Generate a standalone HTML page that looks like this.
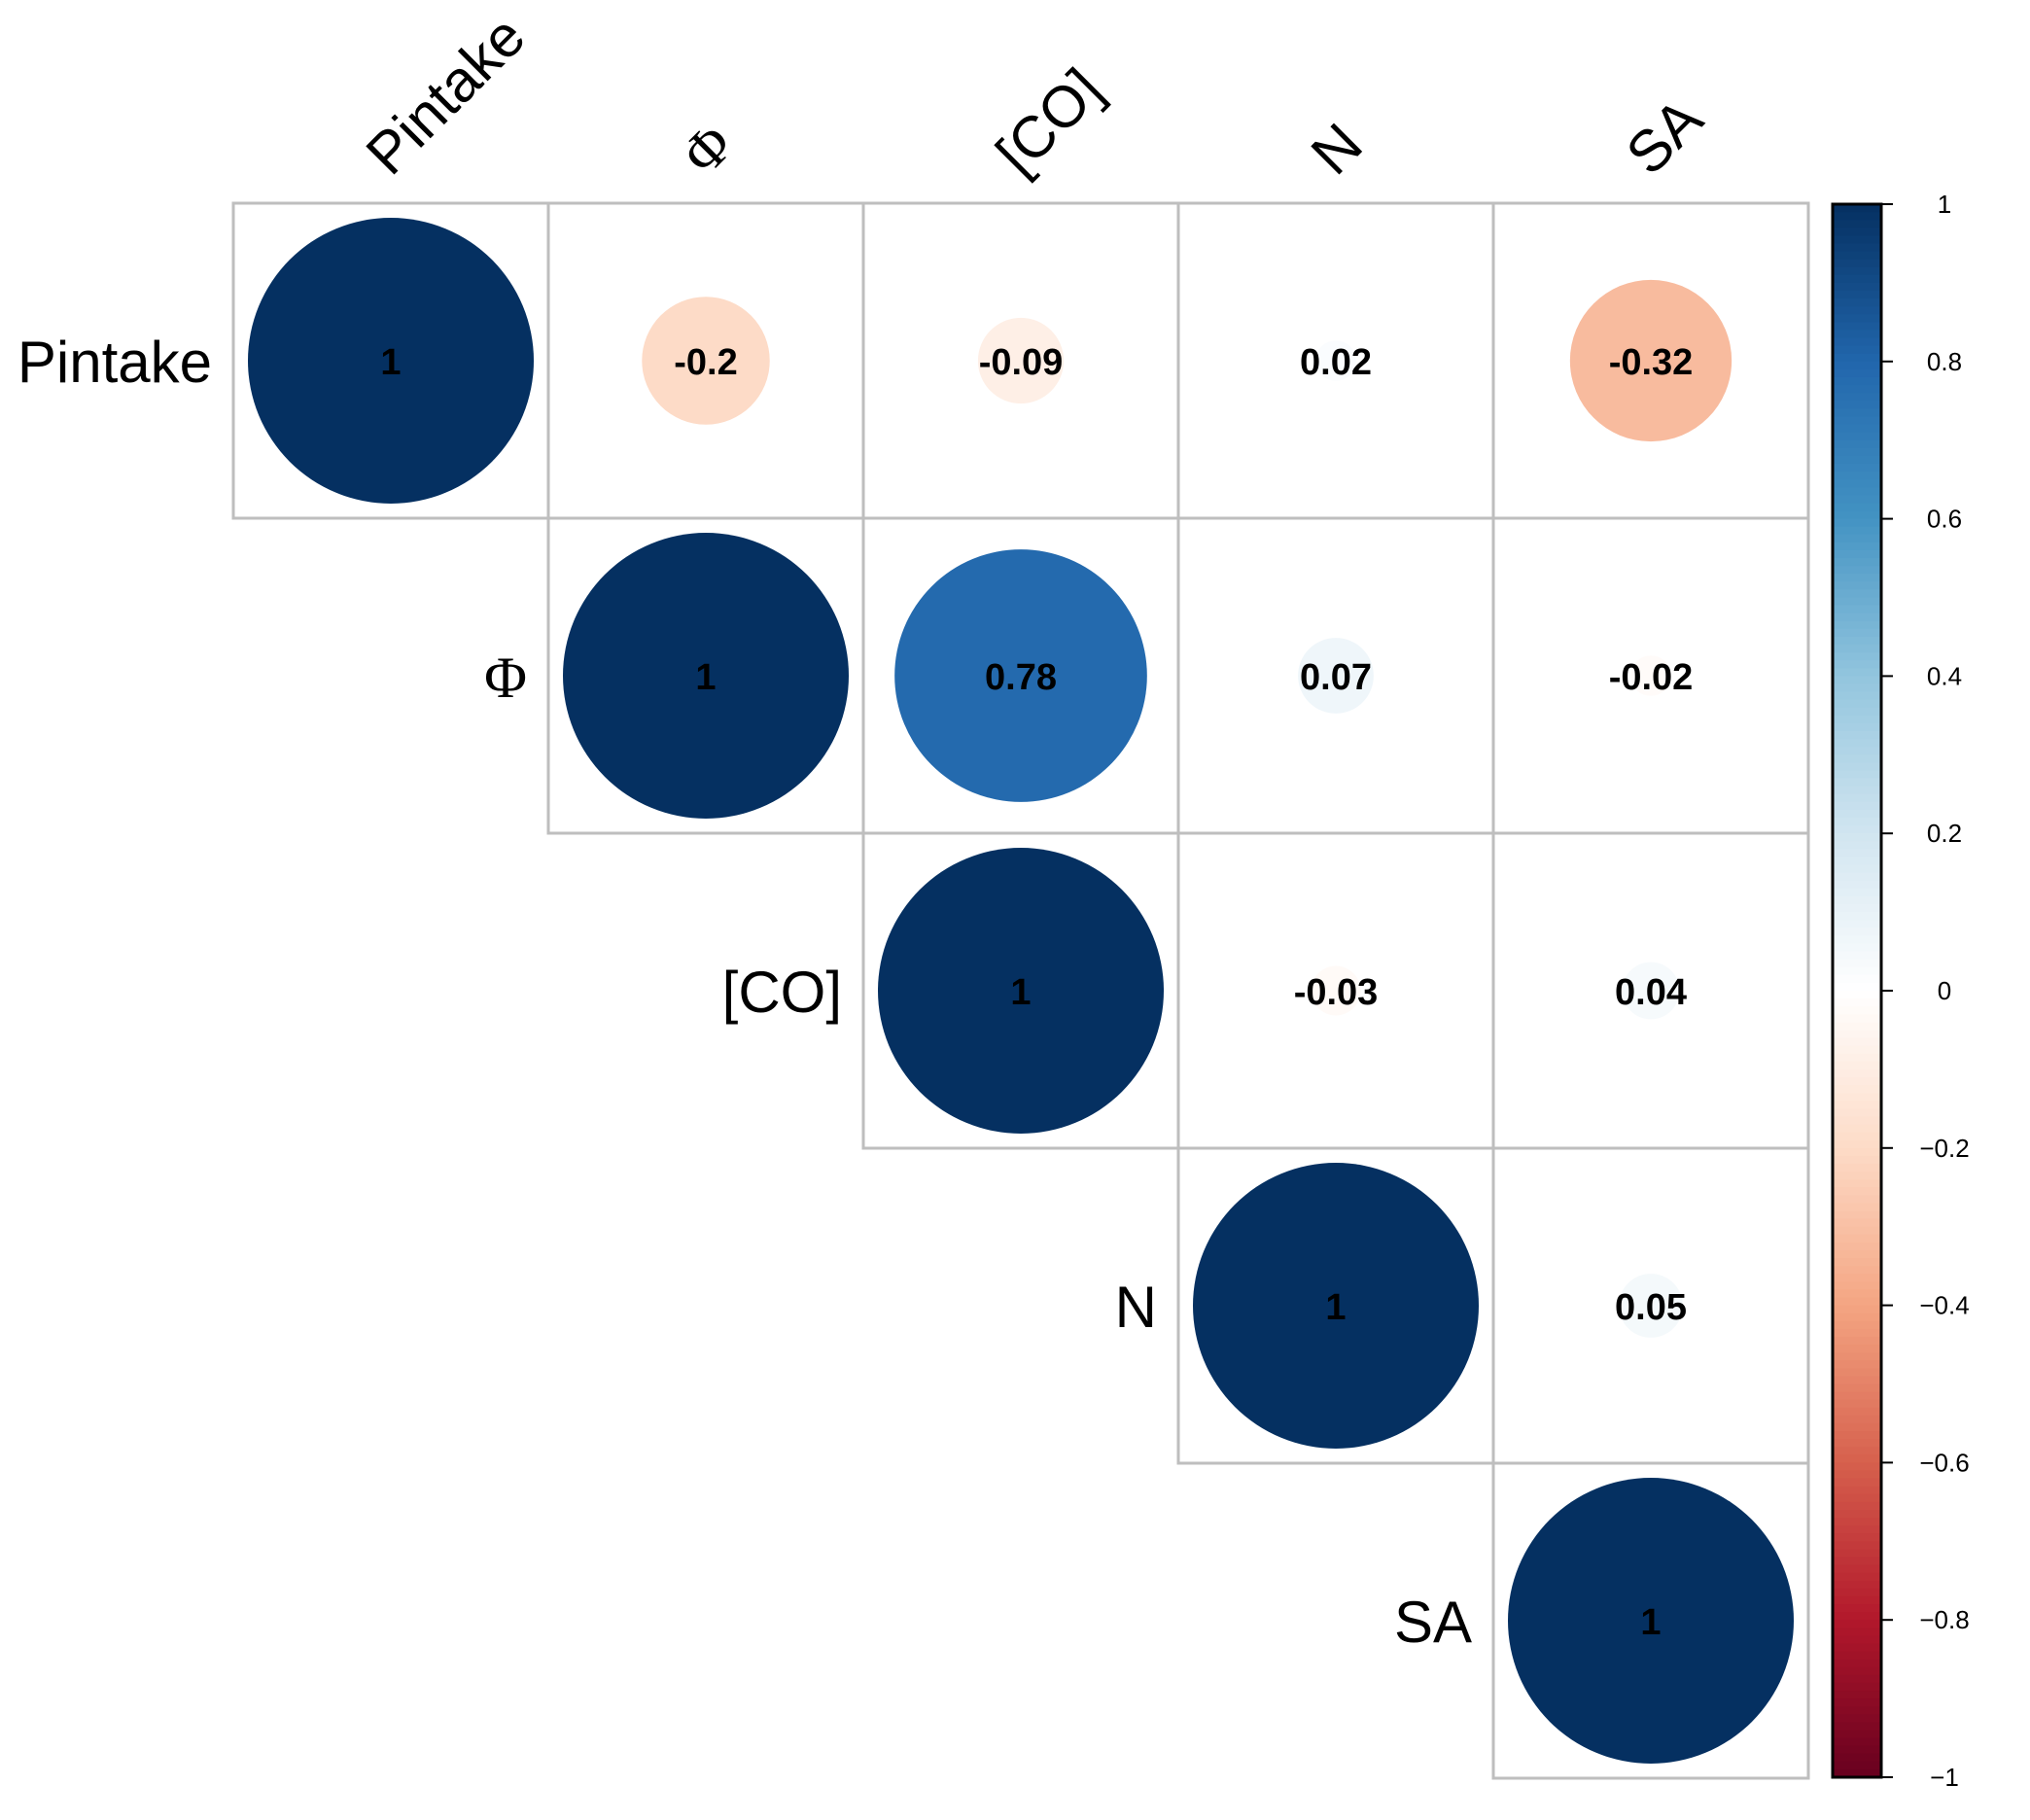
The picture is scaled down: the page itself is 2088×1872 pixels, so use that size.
<!DOCTYPE html>
<html><head><meta charset="utf-8"><style>
html,body{margin:0;padding:0;background:#fff;}
svg{display:block;font-family:"Liberation Sans",sans-serif;}
</style></head><body>
<svg id="chart" width="2088" height="1872" viewBox="0 0 2088 1872"></svg>
<script>
const labels = ["Pintake","\u03A6","[CO]","N","SA"];
const rowA = [1, -0.2, -0.09, 0.02, -0.32];
const rowB = [0.78, 0.07, -0.02];
const rowC = [-0.03, 0.04];
const rowD = [0.05];
const cbTicks = [1,0.8,0.6,0.4,0.2,0,-0.2,-0.4,-0.6,-0.8,-1];
const cbTickLabels = ["1","0.8","0.6","0.4","0.2","0","\u22120.2","\u22120.4","\u22120.6","\u22120.8","\u22121"];

const NS="http://www.w3.org/2000/svg";
const svg=document.getElementById('chart');
function mk(t,a,p){const e=document.createElementNS(NS,t);for(const k in a)e.setAttribute(k,a[k]);(p||svg).appendChild(e);return e;}
const n=labels.length;
// full matrix from upper rows
const M=[];for(let i=0;i<n;i++){M.push(new Array(n).fill(null));M[i][i]=1;}
for(let j=1;j<n;j++)M[0][j]=rowA[j];
[rowB,rowC,rowD].forEach((r,k)=>{const i=k+1;r.forEach((v,m)=>{M[i][i+1+m]=v;});});

const x0=240,y0=209,cell=324,rMax=147;
const cx=j=>x0+cell*(j+0.5), cy=i=>y0+cell*(i+0.5);
const pal=["#67001F","#B2182B","#D6604D","#F4A582","#FDDBC7","#FFFFFF","#D1E5F0","#92C5DE","#4393C3","#2166AC","#053061"];
function hex(h){return [1,3,5].map(i=>parseInt(h.substr(i,2),16));}
function col(v){const t=(v+1)/2*(pal.length-1);const i=Math.min(pal.length-2,Math.floor(t));const f=t-i;
 const a=hex(pal[i]),b=hex(pal[i+1]);return "rgb("+a.map((c,k)=>Math.round(c+(b[k]-c)*f)).join(",")+")";}

const g=mk('g',{});


for(let i=0;i<n;i++)for(let j=i;j<n;j++){
 const v=M[i][j];
 const r=mk('rect',{x:x0+cell*j,y:y0+cell*i,width:cell,height:cell,fill:'#fff',stroke:'#BEBEBE','stroke-width':3},g);
 
 
 const c=mk('circle',{cx:cx(j),cy:cy(i),r:rMax*Math.sqrt(Math.abs(v)),fill:col(v)},g);
 
 
 const t=mk('text',{x:cx(j),y:cy(i)+14,'text-anchor':'middle','font-size':38,'font-weight':'bold',fill:'#000'},g);
 t.textContent=String(v);
 
 
}
labels.forEach((l,i)=>{
 const isPhi=l==="\u03A6";
 const t=mk('text',{x:x0+cell*i-22,y:cy(i)+22,'text-anchor':'end','font-size':60,fill:'#000'});
 if(isPhi)t.setAttribute('font-family','"Liberation Serif",serif');
 t.textContent=l;
 
 
 const c=mk('text',{x:cx(i),y:183,'font-size':60,fill:'#000',transform:'rotate(-45 '+cx(i)+' 183)'});
 if(isPhi)c.setAttribute('font-family','"Liberation Serif",serif');
 c.textContent=l;
 
 
});
// colorbar
const cbX=1885,cbW=50,cbT=210,cbB=1828;
const cbY=v=>cbT+(1-v)/2*(cbB-cbT);
const cb=mk('g',{});


const steps=200;
for(let k=0;k<steps;k++){
 const v=1-2*(k+0.5)/steps;
 mk('rect',{x:cbX,y:cbY(1-2*k/steps),width:cbW,height:(cbB-cbT)/steps+1,fill:col(v)},cb);
}
mk('rect',{x:cbX,y:cbT,width:cbW,height:cbB-cbT,fill:'none',stroke:'#000','stroke-width':3},cb);
cbTicks.forEach((v,k)=>{
 mk('line',{x1:cbX+cbW,x2:cbX+cbW+12,y1:cbY(v),y2:cbY(v),stroke:'#000','stroke-width':2},cb);
 const t=mk('text',{x:2000,y:cbY(v)+9,'text-anchor':'middle','font-size':26,fill:'#000'},cb);
 t.textContent=cbTickLabels[k];
 
 
});
</script>
</body></html>
